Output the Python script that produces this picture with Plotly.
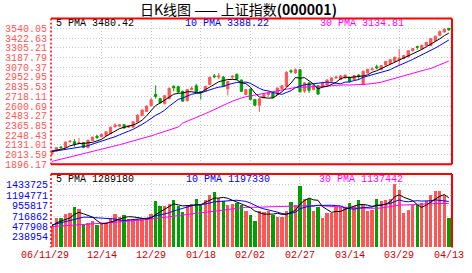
import plotly.graph_objects as go

# ---------------- data ----------------
date_labels = ["06/11/29", "12/14", "12/29", "01/18", "02/02", "02/27", "03/14", "03/29", "04/13"]
label_idx = [0, 11, 22, 33, 44, 55, 66, 77, 88]

open_ = [2020,2060,2105,2100,2168,2170,2150,2160,2098,2185,
         2236,2230,2245,2266,2350,2355,2375,2345,2345,2405,
         2485,2535,2605,2740,2690,2630,2690,2838,2835,2778,
         2665,2800,2845,2775,2780,2860,2965,2950,2950,2808,
         2950,2985,2915,2740,2805,2680,2610,2700,2740,2760,
         2740,2810,2840,3027,3000,3040,2780,2880,2800,2845,
         2830,2855,2900,2940,2920,2940,2945,2920,2975,2860,
         3000,3040,3075,3040,3095,3115,3140,3160,3175,3195,
         3270,3320,3290,3330,3330,3390,3455,3495,3540]
high = [2062,2105,2116,2170,2190,2200,2215,2165,2192,2230,
        2255,2265,2295,2350,2390,2385,2380,2370,2415,2500,
        2560,2610,2700,2850,2700,2730,2825,2850,2845,2785,
        2805,2840,2870,2780,2845,2955,2988,3000,2965,2905,
        2975,2990,2920,2805,2810,2685,2695,2750,2780,2765,
        2825,2850,3020,3045,3055,3049,2890,2885,2858,2850,
        2895,2925,2950,2970,2975,2980,2955,2975,2985,3030,
        3050,3070,3100,3095,3145,3165,3200,3290,3215,3275,
        3300,3330,3340,3375,3420,3450,3515,3540,3540]
low = [2005,2050,2089,2095,2160,2110,2148,2090,2090,2180,
       2200,2222,2240,2262,2340,2350,2328,2338,2340,2400,
       2478,2528,2600,2690,2630,2620,2680,2778,2760,2650,
       2655,2790,2765,2680,2770,2855,2936,2925,2830,2728,
       2925,2915,2770,2730,2670,2600,2530,2695,2712,2695,
       2735,2800,2835,2995,2990,2765,2760,2760,2790,2735,
       2820,2850,2895,2930,2915,2935,2890,2915,2915,2850,
       2995,3030,3045,3035,3090,3100,3130,3095,3165,3190,
       3260,3280,3285,3325,3325,3385,3450,3490,3510]
close = [2058,2100,2097,2165,2175,2140,2160,2100,2187,2225,
         2220,2258,2290,2345,2370,2375,2335,2362,2410,2490,
         2552,2600,2675,2715,2641,2725,2815,2820,2770,2660,
         2800,2815,2770,2765,2838,2948,2955,2965,2838,2897,
         2960,2925,2778,2798,2680,2610,2688,2740,2758,2700,
         2818,2845,3010,3015,3040,2772,2881,2790,2850,2745,
         2885,2915,2940,2950,2965,2975,2897,2968,2960,3020,
         3045,3050,3060,3090,3140,3160,3190,3180,3210,3270,
         3295,3310,3335,3370,3415,3445,3500,3530,3520]
volume = [497000,662000,676000,751000,773000,922000,877000,513000,550000,602000,
          513000,528000,550000,676000,751000,699000,736000,647000,647000,647000,
          647000,662000,751000,1048000,937000,937000,981000,1070000,937000,810000,
          974000,1000000,1108000,974000,1085000,1197000,1256000,1122000,1048000,974000,
          996000,1011000,974000,825000,736000,602000,825000,810000,825000,736000,
          699000,699000,825000,1033000,974000,1405000,1108000,1108000,832000,922000,
          677000,788000,788000,922000,922000,922000,1003000,944000,1078000,959000,
          832000,862000,1093000,1056000,1085000,1108000,1442000,1308000,781000,848000,
          959000,974000,1003000,1048000,1197000,1293000,1293000,1197000,677000]

# moving-average values before a full window exists
pma5_head = [2055, 2065, 2075, 2090]
pma10_head = [2050, 2058, 2066, 2075, 2083, 2091, 2098, 2105, 2120]
pma30_head = [1931, 1944, 1957, 1971, 1984, 1998, 2011, 2024, 2037, 2050,
              2063, 2076, 2090, 2104, 2118, 2133, 2148, 2162, 2177, 2192,
              2207, 2222, 2240, 2258, 2276, 2294, 2312, 2330, 2347]
vma5_head = [489000, 560000, 600000, 640000]
vma10_head = [513000, 540000, 565000, 590000, 620000, 650000, 680000, 690000, 690000]
vma30_head = [476000, 482000, 488000, 494000, 500000, 507000, 514000, 520000, 526000, 531000,
              535000, 540000, 550000, 560000, 572000, 585000, 597000, 605000, 612000, 618000,
              624000, 636000, 650000, 665000, 680000, 695000, 708000, 718000, 726000]

price_ticks = ["1896.17", "2013.59", "2131.01", "2248.43", "2365.85", "2483.27", "2600.69",
               "2718.11", "2835.53", "2952.95", "3070.37", "3187.79", "3305.21", "3422.63", "3540.05"]
price_step = 117.42
vol_ticks = ["238954", "477908", "716862", "955817", "1194771", "1433725"]
vol_step = 238954.3

legend_price = ["5 PMA 3480.42", "10 PMA 3388.22", "30 PMA 3134.81"]
legend_vol = ["5 PMA 1289180", "10 PMA 1197330", "30 PMA 1137442"]
title_text = "日K线图 —— 上证指数<b>(000001)</b>"

# ---------------- helpers ----------------
def rolling(vals, n, head):
    out = list(head)
    for i in range(len(head), len(vals)):
        w = vals[i - n + 1:i + 1]
        out.append(sum(w) / len(w))
    return out

n = len(close)
idx = list(range(n))
pma5 = rolling(close, 5, pma5_head)
pma10 = rolling(close, 10, pma10_head)
pma30 = rolling(close, 30, pma30_head)
vma5 = rolling(volume, 5, vma5_head)
vma10 = rolling(volume, 10, vma10_head)
vma30 = rolling(volume, 30, vma30_head)

W, H = 472, 273
def px(x): return x / W
def py(y): return 1 - y / H

RED = "#ff5555"
GREEN = "#00a000"
MONO = "Liberation Mono"

X0, X1 = 51, 452
MT, MB = 19, 168
VT, VB = 178, 253

fig = go.Figure()
fig.add_trace(go.Candlestick(
    x=idx, open=open_, high=high, low=low, close=close,
    increasing=dict(line=dict(color=RED, width=1), fillcolor=RED),
    decreasing=dict(line=dict(color=GREEN, width=1), fillcolor=GREEN),
    whiskerwidth=0, xaxis="x", yaxis="y", hoverinfo="skip", showlegend=False))
for ser, col in [(pma30, "#ff00ff"), (pma10, "#0000ff"), (pma5, "#000000")]:
    fig.add_trace(go.Scatter(x=idx, y=ser, mode="lines", line=dict(color=col, width=1),
                             xaxis="x", yaxis="y", hoverinfo="skip", showlegend=False))

bar_colors = [RED if c >= o else GREEN for o, c in zip(open_, close)]
fig.add_trace(go.Bar(x=idx, y=volume, marker=dict(color=bar_colors, line=dict(width=0)),
                     width=0.74, xaxis="x2", yaxis="y2", hoverinfo="skip", showlegend=False))
for ser, col in [(vma30, "#ff00ff"), (vma10, "#0000ff"), (vma5, "#000000")]:
    fig.add_trace(go.Scatter(x=idx, y=ser, mode="lines", line=dict(color=col, width=1),
                             xaxis="x2", yaxis="y2", hoverinfo="skip", showlegend=False))

price_vals = [1896.17 + k * price_step for k in range(len(price_ticks))]
vol_vals = [(k + 1) * vol_step for k in range(len(vol_ticks))]

grid = dict(showgrid=True, gridcolor="#c8c8c8", griddash="1px,2px", gridwidth=1, zeroline=False)
xr = [-0.2, 88.7]
fig.update_layout(
    width=W, height=H, margin=dict(l=0, r=0, t=0, b=0),
    paper_bgcolor="white", plot_bgcolor="white", showlegend=False, bargap=0,
    xaxis=dict(domain=[px(X0), px(X1)], range=xr, anchor="y", tickvals=label_idx[1:-1],
               showticklabels=False, ticks="", rangeslider=dict(visible=False), **grid),
    xaxis2=dict(domain=[px(X0), px(X1)], range=xr, anchor="y2", tickvals=label_idx[1:-1],
                showticklabels=False, ticks="", **grid),
    yaxis=dict(domain=[py(MB), py(MT)], range=[1896.17, 1896.17 + 15 * price_step],
               tickvals=price_vals, ticktext=price_ticks, ticks="",
               tickfont=dict(family=MONO, size=10, color=RED), ticklabelstandoff=3, **grid),
    yaxis2=dict(domain=[py(VB), py(VT)], range=[0, 7 * vol_step],
                tickvals=vol_vals, ticktext=vol_ticks, ticks="",
                tickfont=dict(family=MONO, size=10, color="#0000ff"), ticklabelstandoff=2, **grid),
)

shapes = []
def line(x0, y0, x1, y1, color="#ff0000", width=2, dash="solid"):
    shapes.append(dict(type="line", xref="paper", yref="paper", x0=px(x0), y0=py(y0), x1=px(x1), y1=py(y1),
                       line=dict(color=color, width=width, dash=dash), layer="above"))
# main panel border
line(X0, MT, X1, MT)
line(X1, MT, X1, MB)
line(X0, MB, X1, MB)
line(X0, MT, X0, MB, width=1.5, dash="2px,2px")
# volume panel border
line(X0, VT, X1, VT)
line(X1, VT, X1, VB)
line(X0, VT, X0, VB, width=1.5, dash="2px,2px")
fig.update_layout(shapes=shapes)

ann = []
ann.append(dict(text=title_text, x=px(238), y=py(9), xref="paper", yref="paper", showarrow=False,
                xanchor="center", yanchor="middle", font=dict(family="Noto Sans CJK SC", size=14, color="black")))
cols = ["#000000", "#0000ff", "#ff00ff"]
xs = [54, 183, 318]
for t, c, x in zip(legend_price, cols, xs):
    ann.append(dict(text=t, x=px(x), y=py(23.7), xref="paper", yref="paper", showarrow=False,
                    xanchor="left", yanchor="middle", font=dict(family=MONO, size=10, color=c)))
for t, c, x in zip(legend_vol, cols, [54, 184, 317]):
    ann.append(dict(text=t, x=px(x), y=py(183.5), xref="paper", yref="paper", showarrow=False,
                    xanchor="left", yanchor="middle", font=dict(family=MONO, size=10, color=c)))
for t, i in zip(date_labels, label_idx):
    shift = -7 if i == 0 else 0
    ann.append(dict(text=t, x=i, xref="x2", y=py(261), yref="paper", showarrow=False, xshift=shift,
                    xanchor="center", yanchor="middle", font=dict(family=MONO, size=10, color="#cc0000")))
fig.update_layout(annotations=ann)

fig.write_html("out.html")
